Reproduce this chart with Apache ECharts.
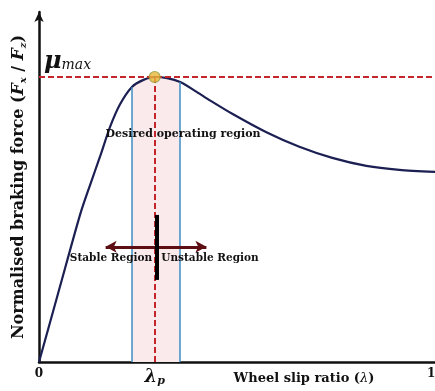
<!DOCTYPE html>
<html>
<head>
<meta charset="utf-8">
<title>Braking force vs slip ratio</title>
<script src="https://cdn.jsdelivr.net/npm/echarts@6/dist/echarts.min.js"></script>
<style>
  html, body { margin: 0; padding: 0; background: #fff; }
  #chart { width: 435px; height: 391px; }
</style>
</head>
<body>
<div id="chart"></div>
<script>
// friction curve (mu normalised so mu_max = 1)
var slip = [0, 0.053, 0.105, 0.130, 0.156, 0.181, 0.207, 0.237, 0.265, 0.295, 0.327, 0.360, 0.403, 0.436, 0.494, 0.580, 0.664, 0.748, 0.835, 0.919, 1.01];
var force = [0, 0.262, 0.518, 0.62, 0.722, 0.824, 0.905, 0.965, 0.989, 1.0, 0.996, 0.982, 0.947, 0.918, 0.870, 0.806, 0.755, 0.716, 0.688, 0.674, 0.667];

// desired operating region (part of the curve between the blue lines)
var regionSlip = [0.236, 0.265, 0.295, 0.327, 0.360];
var regionForce = [0.964, 0.989, 1.0, 0.996, 0.982];

var peakSlip = 0.295;
var muMax = 1.0;
var tickValues = [0, 0.295, 1];
var tickNames = ["0", "{l|λ}{s|p}", "1"];

var serif = "'DejaVu Serif', 'Liberation Serif', serif";

var curve = slip.map(function (x, i) { return [x, force[i]]; });
var region = regionSlip.map(function (x, i) { return [x, regionForce[i]]; });

var chart = echarts.init(document.getElementById("chart"));

var option = {
  animation: false,
  grid: { left: 39, right: 0, top: 12, bottom: 29, outerBoundsMode: "none" },
  xAxis: {
    type: "value",
    min: 0,
    max: 1.01,
    axisLine: { lineStyle: { color: "#111", width: 2.5 } },
    axisTick: { show: false },
    splitLine: { show: false },
    axisLabel: {
      customValues: tickValues,
      margin: 6,
      fontFamily: serif,
      fontWeight: "bold",
      fontSize: 12,
      color: "#111",
      formatter: function (v) {
        var i = tickValues.indexOf(v);
        return i >= 0 ? tickNames[i] : "";
      },
      rich: {
        l: { fontFamily: serif, fontStyle: "italic", fontWeight: "bold", fontSize: 18, color: "#111" },
        s: { fontFamily: serif, fontStyle: "italic", fontWeight: "bold", fontSize: 11, color: "#111", padding: [8, 0, 0, 0] }
      }
    }
  },
  yAxis: {
    type: "value",
    min: 0,
    max: 1.228,
    axisLine: {
      lineStyle: { color: "#111", width: 2.5 },
      symbol: ["none", "arrow"],
      symbolSize: [7, 10]
    },
    axisTick: { show: false },
    axisLabel: { show: false },
    splitLine: { show: false },
    name: "{t|Normalised braking force (}{i|F}{b|x}{t| / }{i|F}{b|z}{t|)}",
    nameLocation: "middle",
    nameGap: 11,
    nameRotate: 90,
    nameTextStyle: {
      rich: {
        t: { fontFamily: serif, fontWeight: "bold", fontSize: 16, color: "#111" },
        i: { fontFamily: serif, fontStyle: "italic", fontWeight: "bold", fontSize: 17, color: "#111" },
        b: { fontFamily: serif, fontStyle: "italic", fontWeight: "bold", fontSize: 10, color: "#111", padding: [8, 0, 0, 0] }
      }
    }
  },
  series: [
    {
      // pink band under the curve + blue bounds
      type: "line",
      data: region,
      smooth: true,
      symbol: "none",
      lineStyle: { width: 0 },
      areaStyle: { color: "#fbeaec", opacity: 1 },
      z: 1,
      markLine: {
        silent: true,
        symbol: "none",
        label: { show: false },
        lineStyle: { color: "#3d8fc4", width: 1.5, type: "solid" },
        data: [
          [{ coord: [regionSlip[0], 0] }, { coord: [regionSlip[0], regionForce[0]] }],
          [{ coord: [regionSlip[4], 0] }, { coord: [regionSlip[4], regionForce[4]] }]
        ]
      }
    },
    {
      type: "line",
      data: curve,
      smooth: 0.25,
      symbol: "none",
      lineStyle: { color: "#1b1f52", width: 2.2 },
      z: 3,
      markLine: {
        silent: true,
        symbol: "none",
        label: { show: false },
        lineStyle: { color: "#c4262b", width: 2, type: [6, 3] },
        data: [
          [{ coord: [0, muMax] }, { coord: [1.01, muMax] }],
          [{ coord: [peakSlip, 0] }, { coord: [peakSlip, muMax] }]
        ]
      }
    },
    {
      // stable / unstable arrow and the thick marker bar
      type: "line",
      data: [],
      z: 4,
      markLine: {
        silent: true,
        label: { show: false },
        data: [
          [
            { coord: [0.17, 0.404], symbol: "arrow", symbolSize: [9, 11], lineStyle: { color: "#5c0e12", width: 3, type: "solid" } },
            { coord: [0.427, 0.404], symbol: "arrow", symbolSize: [9, 11] }
          ],
          [
            { coord: [0.301, 0.516], symbol: "none", lineStyle: { color: "#000", width: 4, type: "solid" } },
            { coord: [0.301, 0.288], symbol: "none" }
          ]
        ]
      }
    },
    {
      type: "scatter",
      data: [[peakSlip, muMax]],
      symbolSize: 11,
      itemStyle: { color: "#e8b83a", borderColor: "#8f9c3c", borderWidth: 1.2 },
      z: 5
    }
  ],
  graphic: [
    {
      type: "text",
      left: 44,
      top: 50,
      style: {
        text: "{m|μ}{s|max}",
        rich: {
          m: { fontFamily: serif, fontStyle: "italic", fontWeight: "bold", fontSize: 24, fill: "#111" },
          s: { fontFamily: serif, fontStyle: "italic", fontSize: 14, fill: "#111", padding: [6, 0, 0, 0] }
        }
      }
    },
    {
      type: "text",
      x: 183,
      y: 134,
      style: {
        text: "Desired operating region",
        fontFamily: serif,
        fontWeight: "bold",
        fontSize: 11,
        fill: "#111",
        align: "center",
        verticalAlign: "middle"
      },
      z: 10
    },
    {
      type: "text",
      x: 111,
      y: 258,
      style: {
        text: "Stable Region",
        fontFamily: serif,
        fontWeight: "bold",
        fontSize: 10.5,
        fill: "#111",
        align: "center",
        verticalAlign: "middle"
      },
      z: 10
    },
    {
      type: "text",
      x: 210,
      y: 258,
      style: {
        text: "Unstable Region",
        fontFamily: serif,
        fontWeight: "bold",
        fontSize: 10.5,
        fill: "#111",
        align: "center",
        verticalAlign: "middle"
      },
      z: 10
    },
    {
      type: "text",
      x: 304,
      y: 379,
      style: {
        text: "Wheel slip ratio ({l|λ})",
        fontFamily: serif,
        fontWeight: "bold",
        fontSize: 13,
        fill: "#111",
        align: "center",
        verticalAlign: "middle",
        rich: {
          l: { fontFamily: serif, fontStyle: "italic", fontSize: 13, fill: "#111" }
        }
      }
    }
  ]
};

chart.setOption(option);
</script>
</body>
</html>
